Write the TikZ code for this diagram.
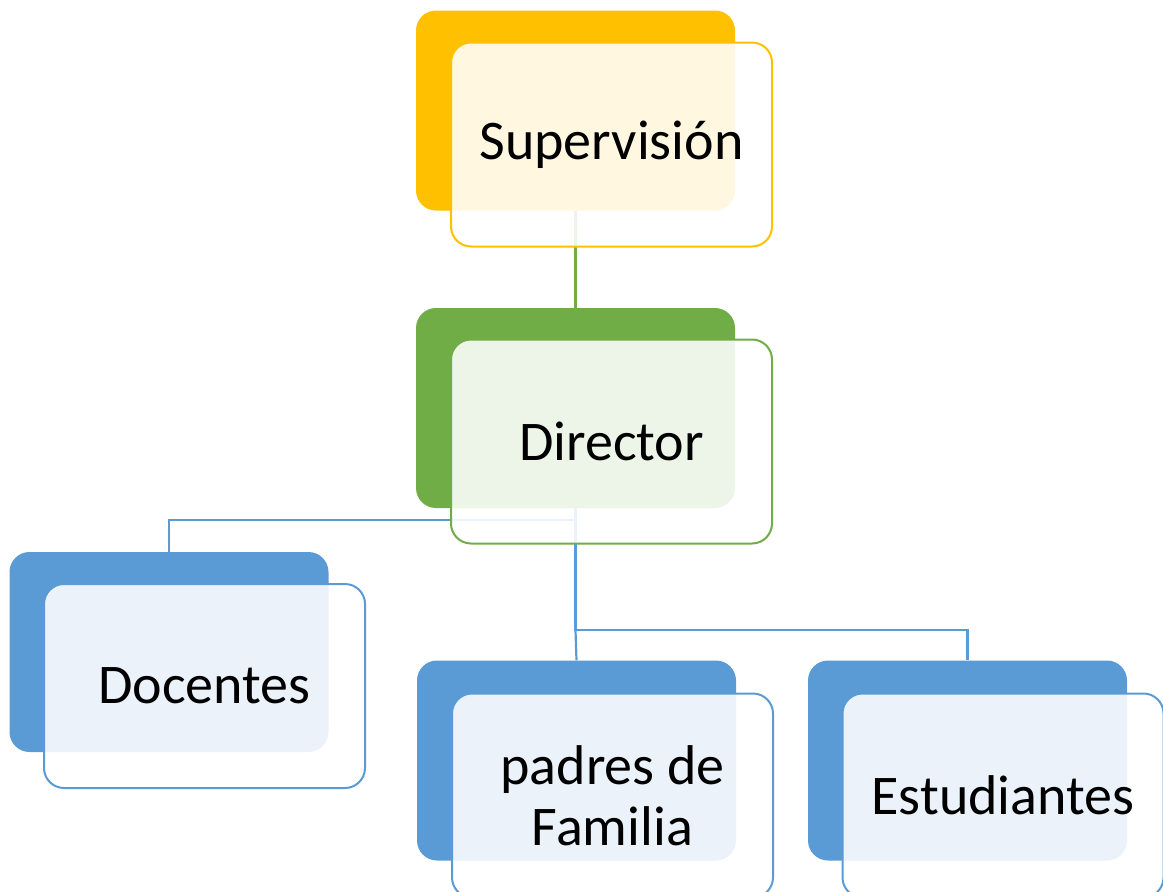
\documentclass[tikz,border=0pt]{standalone}
\usepackage{fontspec}
\setmainfont{Carlito}
\pgfdeclarelayer{bg}
\pgfsetlayers{bg,main}
\definecolor{cOr}{HTML}{FFC000}
\definecolor{cGr}{HTML}{70AD47}
\definecolor{cBl}{HTML}{5B9BD5}
\begin{document}
\begin{tikzpicture}[x=1pt,y=-1pt,
  backbox/.style={rectangle, rounded corners=20pt, minimum width=319pt, minimum height=200pt, inner sep=0pt, fill=#1},
  frontbox/.style={rectangle, rounded corners=20pt, minimum width=321pt, minimum height=204pt, inner sep=0pt, draw=#1, line width=2pt, fill=white, fill opacity=0.88, text opacity=1, font=\fontsize{56}{61}\selectfont, align=center},
  link/.style={draw=#1, line width=2.2pt}]
\useasboundingbox (0,0) rectangle (1163,892);
\clip (0,0) rectangle (1163,892);
% back boxes
\node[backbox=cOr] (supB) at (575.5,110.5) {};
\node[backbox=cGr] (dirB) at (575.5,408) {};
\node[backbox=cBl] (docB) at (169,652) {};
\node[backbox=cBl] (padB) at (576.5,760.5) {};
\node[backbox=cBl] (estB) at (967.5,760.5) {};
% front boxes
\node[frontbox=cOr] (supF) at (611.5,144.5) {Supervisión};
\node[frontbox=cGr] (dirF) at (611.5,441.5) {Director};
\node[frontbox=cBl] (docF) at (204.5,686) {Docentes};
\node[frontbox=cBl] (padF) at (612.5,795.5) {padres de\\Familia};
\node[frontbox=cBl] (estF) at (1003,795.5) {Estudiantes};
% connectors
\begin{pgfonlayer}{bg}
\draw[link=cGr] (supB.south) -- (dirB.north);
\draw[link=cBl] (dirB.south) -- ++(0,12) coordinate (j1) -| (docB.north);
\draw[link=cBl] (j1) -- ++(0,110) coordinate (j2) -| (estB.north);
\draw[link=cBl] (j2) -- (padB.north);
\end{pgfonlayer}
\end{tikzpicture}
\end{document}
